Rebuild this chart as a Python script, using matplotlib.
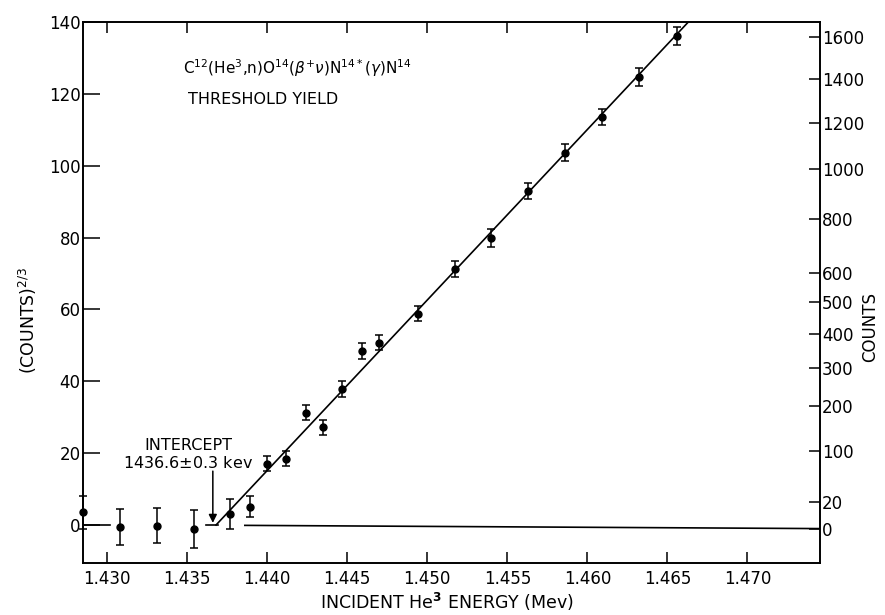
import numpy as np
import matplotlib
matplotlib.use('Agg')
from matplotlib import pyplot as plt

# incident He3 energy (MeV) and (counts)^(2/3) with error bars
energy = [1.4285, 1.4308, 1.4331, 1.4354, 1.4377, 1.4389, 1.4400, 1.4412, 1.4424, 1.4435,
          1.4447, 1.4459, 1.4470, 1.4494, 1.4517, 1.4540, 1.4563, 1.4586, 1.4609, 1.4632, 1.4656]
yield23 = [3.5, -0.6, -0.2, -1.2, 3.1, 5.1, 17.1, 18.5, 31.2, 27.2,
           37.9, 48.4, 50.7, 58.8, 71.3, 79.9, 93.1, 103.7, 113.6, 124.8, 136.2]
yerr = [4.5, 5.0, 4.8, 5.3, 4.2, 2.9, 2.1, 2.2, 2.1, 2.1,
        2.2, 2.2, 2.1, 2.1, 2.25, 2.45, 2.25, 2.3, 2.3, 2.45, 2.45]

# straight line fit and background levels
fit_x = [1.4368, 1.4663]
fit_y = [0.0, 140.0]
bg_left_x = [1.4285, 1.4302]
bg_left_y = [0.0, 0.0]
bg_mid_x = [1.4362, 1.4369]
bg_mid_y = [0.0, 0.0]
bg_right_x = [1.4386, 1.4746]
bg_right_y = [-0.1, -1.0]

intercept = 1.4366

xticks = [1.430, 1.435, 1.440, 1.445, 1.450, 1.455, 1.460, 1.465, 1.470]
yticks = [0, 20, 40, 60, 80, 100, 120, 140]
counts_ticks = [0, 20, 100, 200, 300, 400, 500, 600, 800, 1000, 1200, 1400, 1600]
counts_zero = -1.0

plt.rcParams['font.family'] = ['DejaVu Sans']
plt.rcParams['mathtext.fontset'] = 'dejavusans'

fig = plt.figure(figsize=(8.85, 6.15), dpi=100)
ax = fig.add_axes([0.094, 0.085, 0.833, 0.879])

ax.errorbar(energy, yield23, yerr=yerr, fmt='o', color='black', ms=5,
            elinewidth=1.1, capsize=3, capthick=1.1, clip_on=False, zorder=3)
ax.plot(fit_x, fit_y, color='black', lw=1.2)
ax.plot(bg_left_x, bg_left_y, color='black', lw=1.2)
ax.plot(bg_mid_x, bg_mid_y, color='black', lw=1.2)
ax.plot(bg_right_x, bg_right_y, color='black', lw=1.2)

ax.annotate('', xy=(intercept, 0.6), xytext=(intercept, 15),
            arrowprops=dict(arrowstyle='-|>', color='black', lw=1.1,
                            mutation_scale=12, shrinkA=0, shrinkB=0))
ax.text(1.43508, 22.2, 'INTERCEPT', ha='center', va='center', fontsize=11.5)
ax.text(1.43508, 17.2, r'1436.6$\pm$0.3 kev', ha='center', va='center', fontsize=11.5)

ax.text(1.43475, 127.2, r'C$^{12}$(He$^{3}$,n)O$^{14}$($\beta^{+}\nu$)N$^{14*}$($\gamma$)N$^{14}$',
        ha='left', va='center', fontsize=11)
ax.text(1.43506, 118.6, 'THRESHOLD YIELD', ha='left', va='center', fontsize=11.5)

ax.set_xlim(1.4285, 1.47456)
ax.set_ylim(-10.5, 140)
ax.set_xticks(xticks)
ax.set_xticklabels(['%.3f' % v for v in xticks])
ax.set_yticks(yticks)

ax.tick_params(axis='x', direction='in', length=8, width=1.1, top=True,
               labelsize=12, pad=5)
ax.tick_params(axis='y', direction='in', length=12, width=1.1, labelsize=12, pad=2)

fig.text(0.505, 0.022, r'INCIDENT He$^{\mathbf{3}}$ ENERGY (Mev)', ha='center',
         va='center', fontsize=12.5)
fig.text(0.032, 0.48, r'(COUNTS)$^{2/3}$', ha='center', va='center',
         rotation=90, fontsize=12.5)

ax2 = ax.twinx()
ax2.set_ylim(ax.get_ylim())
ax2.set_yticks([c ** (2.0 / 3.0) + counts_zero for c in counts_ticks])
ax2.set_yticklabels([str(c) for c in counts_ticks])
ax2.tick_params(axis='y', direction='in', length=8, width=1.1, labelsize=12, pad=1)
fig.text(0.983, 0.468, 'COUNTS', ha='center', va='center', rotation=90, fontsize=12)

for a in (ax, ax2):
    for s in a.spines.values():
        s.set_linewidth(1.2)

fig.savefig('out.png', dpi=100)
